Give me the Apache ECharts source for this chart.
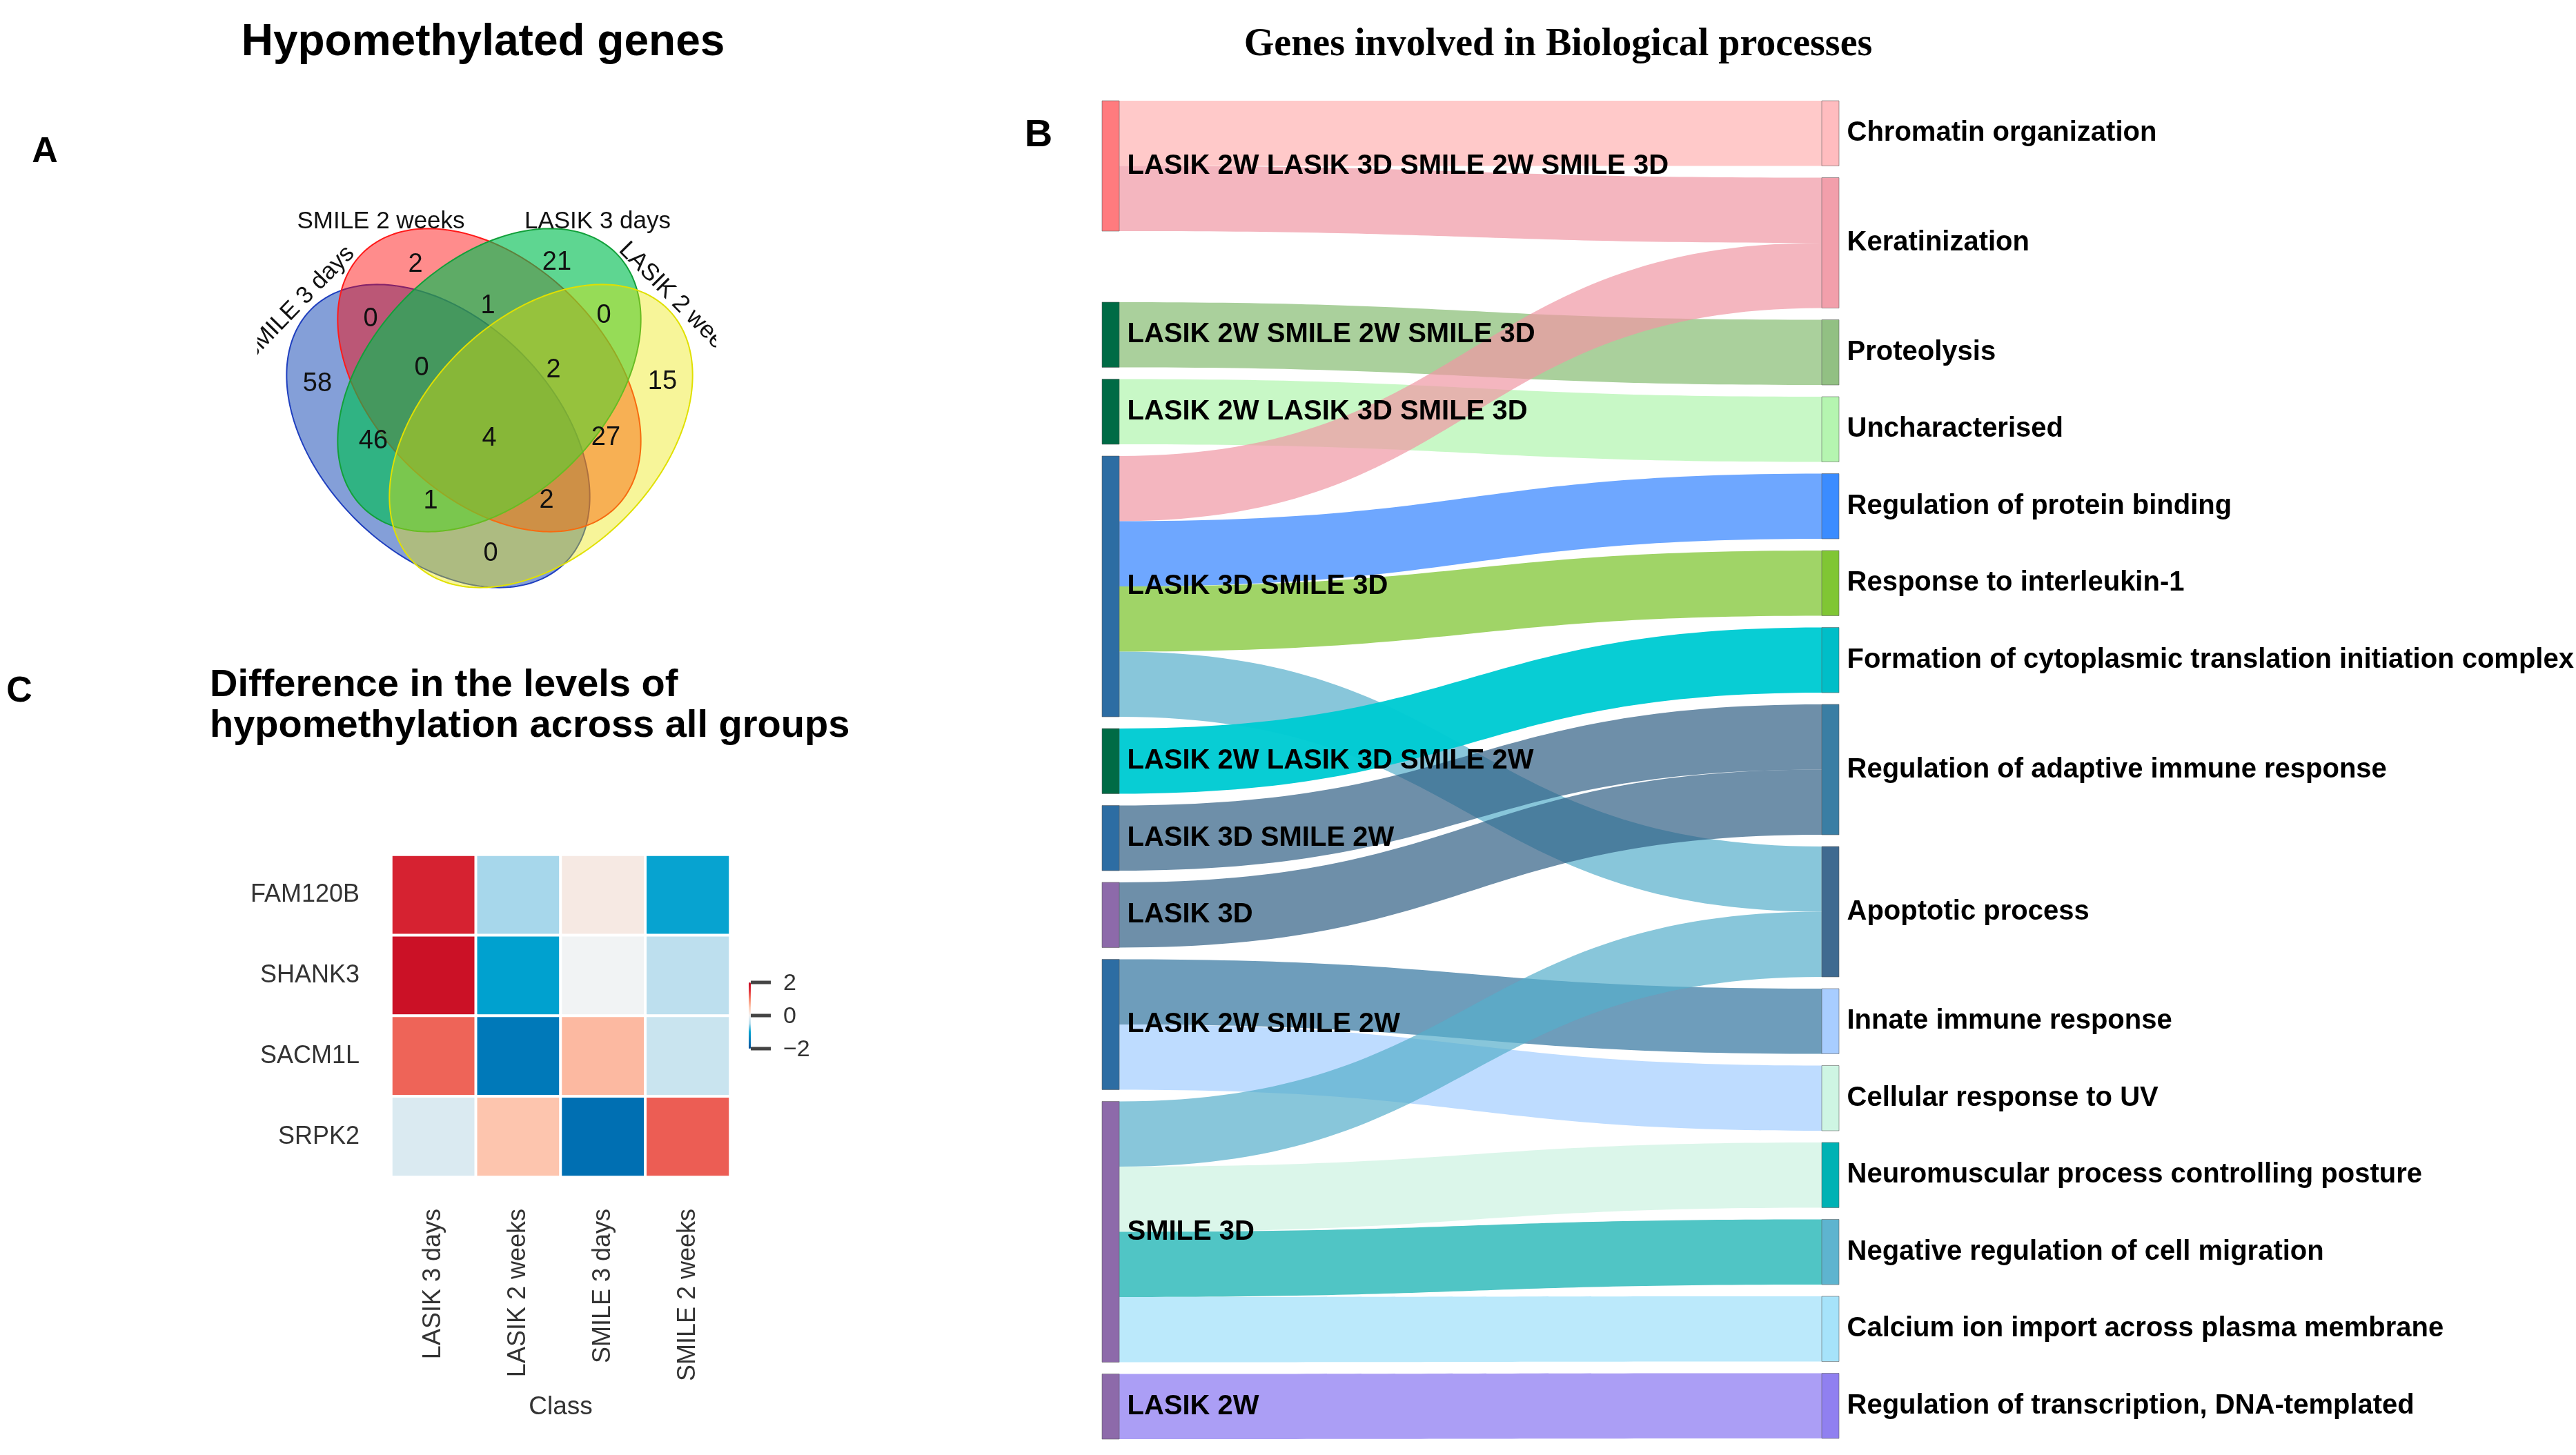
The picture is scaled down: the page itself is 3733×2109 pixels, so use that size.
<!DOCTYPE html>
<html>
<head>
<meta charset="utf-8">
<script src="https://cdn.jsdelivr.net/npm/echarts@6/dist/echarts.min.js"></script>
<style>
html,body{margin:0;padding:0;background:#ffffff;}
#main{width:3733px;height:2109px;}
</style>
</head>
<body>
<div id="main"></div>
<script>
// ================= DATA =================
// Panel A: Venn diagram of hypomethylated genes
const vennSetNames = ['SMILE 3 days', 'SMILE 2 weeks', 'LASIK 3 days', 'LASIK 2 weeks'];
// region keys: B = SMILE 3 days, R = SMILE 2 weeks, G = LASIK 3 days, Y = LASIK 2 weeks
const vennRegions = ['R', 'G', 'BR', 'RG', 'GY', 'B', 'BRG', 'RGY', 'Y', 'BG', 'BRGY', 'RY', 'BGY', 'BRY', 'BY'];
const vennCounts  = [2, 21, 0, 1, 0, 58, 0, 2, 15, 46, 4, 27, 1, 2, 0];

// Panel C: heatmap
const heatGenes = ['FAM120B', 'SHANK3', 'SACM1L', 'SRPK2'];
const heatClasses = ['LASIK 3 days', 'LASIK 2 weeks', 'SMILE 3 days', 'SMILE 2 weeks'];
const valFAM120B = [1.67, -0.54, 0.13, -0.98];
const valSHANK3  = [1.87, -1.00, -0.02, -0.44];
const valSACM1L  = [1.20, -1.50, 0.63, -0.34];
const valSRPK2   = [-0.21, 0.54, -1.62, 1.24];
const legendTicks = [2, 0, -2];

// Panel B: sankey
const sankeyGroups = [
  'LASIK 2W LASIK 3D SMILE 2W SMILE 3D',
  'LASIK 2W SMILE 2W SMILE 3D',
  'LASIK 2W LASIK 3D SMILE 3D',
  'LASIK 3D SMILE 3D',
  'LASIK 2W LASIK 3D SMILE 2W',
  'LASIK 3D SMILE 2W',
  'LASIK 3D',
  'LASIK 2W SMILE 2W',
  'SMILE 3D',
  'LASIK 2W'
];
const sankeyProcesses = [
  'Chromatin organization',
  'Keratinization',
  'Proteolysis',
  'Uncharacterised',
  'Regulation of protein binding',
  'Response to interleukin-1',
  'Formation of cytoplasmic translation initiation complex',
  'Regulation of adaptive immune response',
  'Apoptotic process',
  'Innate immune response',
  'Cellular response to UV',
  'Neuromuscular process controlling posture',
  'Negative regulation of cell migration',
  'Calcium ion import across plasma membrane',
  'Regulation of transcription, DNA-templated'
];
const linkSource = [0, 0, 1, 2, 3, 3, 3, 3, 4, 5, 6, 7, 7, 8, 8, 8, 8, 9];
const linkTarget = [0, 1, 2, 3, 1, 4, 5, 8, 6, 7, 7, 9, 10, 8, 11, 12, 13, 14];
const linkValue  = [1, 1, 1, 1, 1, 1, 1, 1, 1, 1, 1, 1, 1, 1, 1, 1, 1, 1];

// ================= STYLES / LAYOUT =================
const groupColors = ['#ff7b7e', '#006b45', '#006b45', '#2d6da3', '#006b45', '#2d6da3', '#8d6aaa', '#2d6da3', '#8d6aaa', '#8d6aaa'];
const processColors = ['#ffbcbf', '#f29fab', '#92c083', '#b5f5b0', '#3b8cff', '#80c634', '#00bec8', '#3a7ea4', '#3f6a90', '#a8cdff', '#cef5e3', '#00b2b4', '#5eb4cf', '#a6e3fa', '#9080f0'];
const linkColors = ['#ffb2b2', '#ef97a4', '#86bc72', '#b0f5ae', '#ef97a4', '#3081ff', '#77c227', '#55aeca', '#00cbd3', '#305f84', '#305f84', '#31739e', '#a2cdff', '#55aeca', '#ccf2e1', '#05acac', '#9ee0f9', '#8775f1'];
const linkOpacity = [0.7, 0.7, 0.7, 0.7, 0.7, 0.7, 0.7, 0.7, 0.97, 0.7, 0.7, 0.7, 0.7, 0.7, 0.7, 0.7, 0.7, 0.7];
const heatPalette = ['#00509a', '#0079b9', '#00a1cf', '#b5dced', '#f4f4f4', '#fdcbb4', '#f8866c', '#e0303a', '#c4061f'];
// invisible layout spacer in the left sankey column (reproduces the gap under the first group)
const sankeySpacerAfter = 0;
const sankeySpacerSize = 0.73;

function fontAvailable(name) {
  const c = document.createElement('canvas').getContext('2d');
  const t = 'SMILE 2 weeks 0123456789 LASIK';
  c.font = '40px monospace'; const w1 = c.measureText(t).width;
  c.font = '40px "' + name + '", monospace'; const w2 = c.measureText(t).width;
  c.font = '40px serif'; const w3 = c.measureText(t).width;
  c.font = '40px "' + name + '", serif'; const w4 = c.measureText(t).width;
  return Math.abs(w1 - w2) > 0.5 || Math.abs(w3 - w4) > 0.5;
}
const hasNarrow = fontAvailable('Liberation Sans Narrow');
const vennFont = hasNarrow
  ? { fam: '"Liberation Sans Narrow", "Liberation Sans", Arial, sans-serif', label: 41, num: 44 }
  : { fam: '"Liberation Sans", Arial, sans-serif', label: 35, num: 38 };

// Venn geometry (layout only)
const vennLayout = {
  a: 260, b: 170,
  ellipses: [
    { cx: 635, cy: 632, rot: Math.PI / 4,  fill: 'rgba(20,70,180,0.52)', stroke: '#1f3fbf' },
    { cx: 709, cy: 551, rot: Math.PI / 4,  fill: 'rgba(255,0,0,0.45)',   stroke: '#ff1a1a' },
    { cx: 709, cy: 551, rot: -Math.PI / 4, fill: 'rgba(0,190,80,0.63)',  stroke: '#12a03a' },
    { cx: 784, cy: 632, rot: -Math.PI / 4, fill: 'rgba(235,230,0,0.40)', stroke: '#e0e000' }
  ],
  setLabels: [
    { x: 432, y: 440, rot: 0.80 },
    { x: 552, y: 321, rot: 0 },
    { x: 866, y: 321, rot: 0 },
    { x: 986, y: 441, rot: -0.79 }
  ],
  regionPos: {
    R: [602, 384], G: [807, 381], BR: [537, 463], RG: [707, 444], GY: [875, 458],
    B: [460, 557], BRG: [611, 534], RGY: [802, 537], Y: [960, 554],
    BG: [541, 640], BRGY: [709, 636], RY: [878, 635], BGY: [624, 727], BRY: [792, 726], BY: [711, 803]
  }
};

function ellipsePoints(cx, cy, a, b, rot) {
  const pts = [];
  const n = 240;
  for (let i = 0; i < n; i++) {
    const t = i / n * Math.PI * 2;
    const u = a * Math.cos(t), v = b * Math.sin(t);
    pts.push([cx + u * Math.cos(rot) - v * Math.sin(rot), cy + u * Math.sin(rot) + v * Math.cos(rot)]);
  }
  return pts;
}

// ================= GRAPHIC =================
const BOLD = '"Liberation Sans", Arial, Helvetica, sans-serif';
function txt(text, x, y, font, opts) {
  opts = opts || {};
  return {
    type: 'text', x: x, y: y, rotation: opts.rotation || 0, z: opts.z || 10,
    style: {
      text: text, font: font, fill: opts.fill || '#000',
      textAlign: opts.align || 'center', align: opts.align || 'center',
      textVerticalAlign: 'middle', verticalAlign: 'middle'
    }
  };
}

const graphics = [];
graphics.push(txt('Hypomethylated genes', 700, 62, 'bold 64px ' + BOLD));
graphics.push(txt('A', 65, 221, 'bold 52px ' + BOLD));
graphics.push(txt('B', 1505, 197, 'bold 56px ' + BOLD));
graphics.push(txt('C', 28, 1003, 'bold 52px ' + BOLD));
graphics.push(txt('Genes involved in Biological processes', 2258, 66, 'bold 56px "Liberation Serif", "Times New Roman", serif'));
graphics.push(txt('Difference in the levels of', 304, 994, 'bold 56px ' + BOLD, { align: 'left' }));
graphics.push(txt('hypomethylation across all groups', 304, 1053, 'bold 56px ' + BOLD, { align: 'left' }));

vennLayout.ellipses.forEach(function (e) {
  graphics.push({
    type: 'polygon', z: 5,
    shape: { points: ellipsePoints(e.cx, e.cy, vennLayout.a, vennLayout.b, e.rot) },
    style: { fill: e.fill, stroke: e.stroke, lineWidth: 2 }
  });
});
vennSetNames.forEach(function (name, i) {
  const p = vennLayout.setLabels[i];
  graphics.push(txt(name, p.x, p.y, vennFont.label + 'px ' + vennFont.fam, { rotation: p.rot, fill: '#111' }));
});
vennRegions.forEach(function (key, i) {
  const p = vennLayout.regionPos[key];
  graphics.push(txt(String(vennCounts[i]), p[0], p[1], vennFont.num + 'px ' + vennFont.fam, { fill: '#111' }));
});
// crop of the Venn picture edges, as in the original figure
graphics.push({ type: 'rect', z: 20, shape: { x: 300, y: 470, width: 73, height: 110 }, style: { fill: '#fff' } });
graphics.push({ type: 'rect', z: 20, shape: { x: 1038, y: 420, width: 90, height: 150 }, style: { fill: '#fff' } });

// heatmap legend ticks & labels
const legTop = 1424, legBottom = 1520;
legendTicks.forEach(function (v) {
  const y = legTop + (2 - v) / 4 * (legBottom - legTop);
  graphics.push({ type: 'line', z: 10, shape: { x1: 1088, y1: y, x2: 1117, y2: y }, style: { stroke: '#444', lineWidth: 5 } });
  graphics.push(txt(v < 0 ? '\u2212' + Math.abs(v) : String(v), 1135, y + 2, '34px ' + BOLD, { align: 'left', fill: '#333' }));
});

// ================= SERIES DATA =================
const heatRows = [valFAM120B, valSHANK3, valSACM1L, valSRPK2];
const heatData = [];
heatRows.forEach(function (row, r) {
  row.forEach(function (v, c) { heatData.push([c, r, v]); });
});

const nodeBorder = { borderColor: 'rgba(90,90,90,0.55)', borderWidth: 1 };
const sankeyNodes = [];
sankeyGroups.forEach(function (n, i) {
  sankeyNodes.push({ name: n, depth: 0, itemStyle: Object.assign({ color: groupColors[i] }, nodeBorder) });
  if (i === sankeySpacerAfter) {
    sankeyNodes.push({
      name: '\u200b', depth: 0, value: sankeySpacerSize,
      itemStyle: { color: 'rgba(0,0,0,0)', borderWidth: 0, opacity: 0 },
      label: { show: false }, tooltip: { show: false }
    });
  }
});
sankeyProcesses.forEach(function (n, i) {
  sankeyNodes.push({ name: n, depth: 1, itemStyle: Object.assign({ color: processColors[i] }, nodeBorder) });
});
const sankeyLinks = linkSource.map(function (s, i) {
  return {
    source: sankeyGroups[s], target: sankeyProcesses[linkTarget[i]], value: linkValue[i],
    lineStyle: { color: linkColors[i], opacity: linkOpacity[i] }
  };
});

// ================= CHART =================
const chart = echarts.init(document.getElementById('main'), null, { renderer: 'canvas' });
chart.setOption({
  backgroundColor: '#ffffff',
  animation: false,
  textStyle: { fontFamily: BOLD },
  graphic: { elements: graphics },
  grid: { left: 567, top: 1239, width: 491, height: 467, containLabel: false },
  xAxis: {
    type: 'category', data: heatClasses, position: 'bottom',
    axisLine: { show: false }, axisTick: { show: false }, splitLine: { show: false },
    axisLabel: { rotate: 90, margin: 46, fontSize: 36, color: '#333', fontFamily: BOLD, padding: [0, 0, 20, 0] },
    name: 'Class', nameLocation: 'middle', nameGap: 315,
    nameTextStyle: { fontSize: 37, color: '#333', fontFamily: BOLD }
  },
  yAxis: {
    type: 'category', data: heatGenes, inverse: true,
    axisLine: { show: false }, axisTick: { show: false }, splitLine: { show: false },
    axisLabel: { margin: 46, fontSize: 36, color: '#333', fontFamily: BOLD }
  },
  visualMap: {
    type: 'continuous', min: -2, max: 2, seriesIndex: 0,
    calculable: false, orient: 'vertical',
    left: 1085, top: legTop, padding: 0,
    itemWidth: 3, itemHeight: legBottom - legTop,
    inRange: { color: heatPalette },
    hoverLink: false
  },
  series: [
    {
      type: 'heatmap', data: heatData,
      itemStyle: { borderColor: '#ffffff', borderWidth: 4 },
      label: { show: false },
      emphasis: { disabled: true }
    },
    {
      type: 'sankey',
      left: 1597, top: 146, width: 1068, height: 1940,
      nodeWidth: 25, nodeGap: 17,
      nodeAlign: 'left',
      layoutIterations: 0,
      draggable: false,
      emphasis: { disabled: true },
      data: sankeyNodes,
      links: sankeyLinks,
      label: {
        position: 'right', distance: 11,
        fontFamily: BOLD, fontWeight: 'bold', fontSize: 40, color: '#000'
      },
      lineStyle: { curveness: 0.5 }
    }
  ]
});
</script>
</body>
</html>
